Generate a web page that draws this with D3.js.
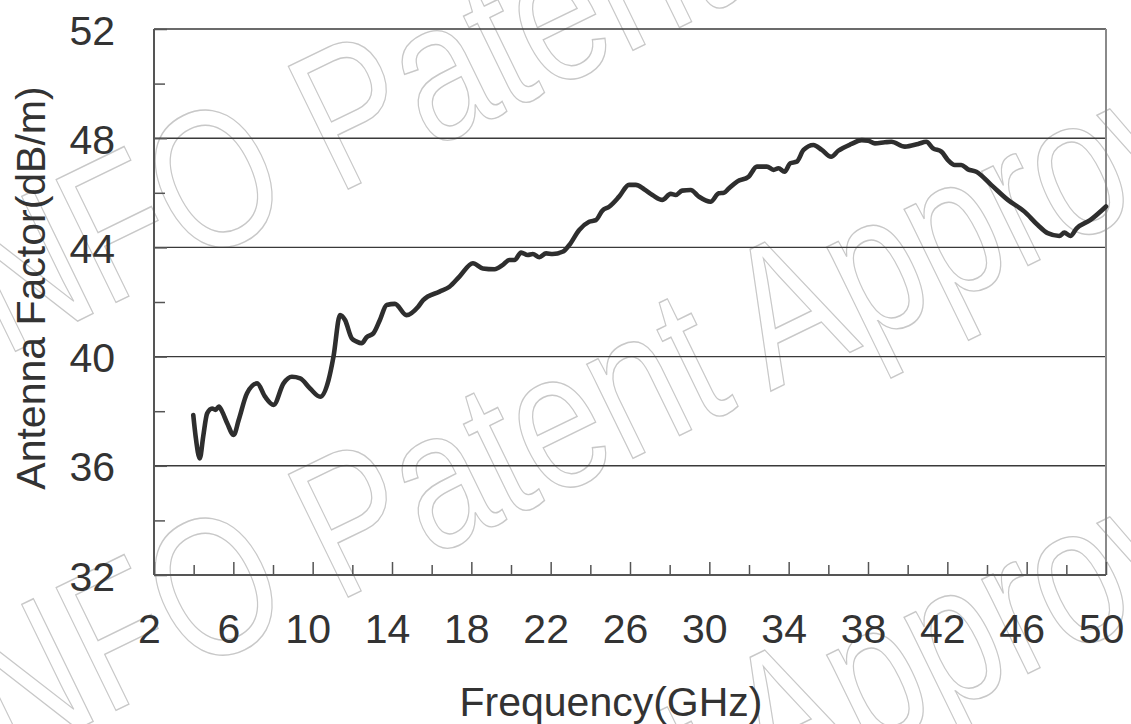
<!DOCTYPE html>
<html>
<head>
<meta charset="utf-8">
<script src="https://cdn.jsdelivr.net/npm/d3@7/dist/d3.min.js"></script>
<style>
  html, body { margin: 0; padding: 0; background: #fff; }
  svg { display: block; }
</style>
</head>
<body>
<svg id="chart" width="1131" height="724"></svg>
<script>
// ---- data ----
const freqGHz = [3.98, 4.1, 4.31, 4.48, 4.68, 4.93, 5.1, 5.27, 5.44, 5.69, 6.02, 6.27, 6.69, 7.2, 7.6, 8.03,
  8.53, 8.95, 9.37, 9.87, 10.38, 10.8, 11.05, 11.38, 11.63, 11.97, 12.22, 12.47, 12.72, 13.06, 13.39, 13.73,
  14.15, 14.73, 15.32, 15.57, 16.4, 16.9, 17.4, 18.08, 18.58, 19.17, 19.59, 19.92, 20.18, 20.51, 20.84, 21.1,
  21.43, 21.77, 22.1, 22.6, 22.94, 23.44, 23.94, 24.28, 24.61, 24.95, 25.45, 25.95, 26.29, 26.71, 27.13, 27.63,
  28.05, 28.3, 28.63, 29.06, 29.47, 30.06, 30.48, 30.73, 30.98, 31.4, 31.98, 32.4, 32.9, 33.24, 33.49, 33.79,
  34.08, 34.41, 34.75, 35.25, 35.67, 36.14, 36.5, 37.17, 37.68, 38.01, 38.35, 38.85, 39.18, 39.86, 40.53, 40.94,
  41.28, 41.7, 42.03, 42.37, 42.7, 43.04, 43.46, 44.21, 45.05, 45.89, 46.56, 47.06, 47.65, 47.9, 48.2, 48.52,
  49.2, 50.0];
const antennaFactor = [37.86, 37.07, 36.27, 37.07, 37.92, 38.1, 38.05, 38.17, 37.98, 37.56, 37.13, 37.68, 38.66, 39.02, 38.53, 38.23,
  39.02, 39.26, 39.2, 38.83, 38.53, 39.14, 40.0, 41.52, 41.34, 40.67, 40.55, 40.49, 40.71, 40.85, 41.34, 41.89,
  41.93, 41.52, 41.83, 42.07, 42.38, 42.56, 42.93, 43.42, 43.23, 43.2, 43.36, 43.54, 43.54, 43.81, 43.72, 43.76,
  43.64, 43.78, 43.76, 43.84, 44.09, 44.64, 44.94, 45.0, 45.35, 45.49, 45.86, 46.29, 46.29, 46.13, 45.92, 45.74,
  45.96, 45.92, 46.08, 46.1, 45.86, 45.67, 45.98, 46.0, 46.16, 46.41, 46.59, 46.96, 46.96, 46.84, 46.9, 46.77,
  47.08, 47.14, 47.57, 47.75, 47.57, 47.32, 47.54, 47.79, 47.93, 47.91, 47.81, 47.85, 47.87, 47.69, 47.79, 47.87,
  47.63, 47.51, 47.2, 47.02, 47.02, 46.86, 46.77, 46.29, 45.74, 45.31, 44.82, 44.52, 44.42, 44.54, 44.42, 44.7,
  45.0, 45.5];
const xMajorTicks = [2, 6, 10, 14, 18, 22, 26, 30, 34, 38, 42, 46, 50];
const xMinorTicks = [4, 8, 12, 16, 20, 24, 28, 32, 36, 40, 44, 48];
const yMajorTicks = [32, 36, 40, 44, 48, 52];
const yMinorTicks = [34, 38, 42, 46, 50];
const xTitle = "Frequency(GHz)";
const yTitle = "Antenna Factor(dB/m)";
const watermarkText = "NFO Patent Approval";

// ---- layout ----
const W = 1131, H = 724;
const mLeft = 154, mRight = 1106, mTop = 29, mBottom = 575;
const FONT = "'Liberation Sans', Arial, Helvetica, sans-serif";
const TXT = "#333";

const svg = d3.select("#chart");
svg.append("rect").attr("width", W).attr("height", H).attr("fill", "#fff");

// watermark (outlined text, as in the reference scan)
const wm = svg.append("g").attr("class", "watermark");
const wmLines = [[4, 357], [4, 765], [4, 1173]];
wmLines.forEach(([x0, y0]) => {
  wm.append("text")
    .attr("transform", `translate(${x0},${y0}) rotate(-26) scale(1,1.28)`)
    .attr("font-family", FONT)
    .attr("font-size", 155)
    .attr("fill", "none")
    .attr("stroke", "#c8c8c8")
    .attr("stroke-width", 1.3)
    .attr("vector-effect", "non-scaling-stroke")
    .text(watermarkText);
});

const x = d3.scaleLinear().domain([2, 50]).range([mLeft, mRight]);
const y = d3.scaleLinear().domain([32, 52]).range([mBottom, mTop]);

// gridlines
svg.append("g").selectAll("line")
  .data(yMajorTicks.filter(d => d > 32))
  .join("line")
  .attr("x1", mLeft).attr("x2", mRight)
  .attr("y1", d => y(d)).attr("y2", d => y(d))
  .attr("stroke", "#3a3a3a").attr("stroke-width", 1.4);

// right border
svg.append("line")
  .attr("x1", mRight).attr("x2", mRight).attr("y1", mTop).attr("y2", mBottom)
  .attr("stroke", "#8a8a8a").attr("stroke-width", 2);

// x axis minor
const gxMinor = svg.append("g").attr("transform", `translate(0,${mBottom})`)
  .call(d3.axisBottom(x).tickValues(xMinorTicks).tickSize(-10).tickFormat(""));
// x axis major
const gx = svg.append("g").attr("transform", `translate(0,${mBottom})`)
  .call(d3.axisBottom(x).tickValues(xMajorTicks).tickSize(-13).tickPadding(39).tickFormat(d3.format("d")));
// y axis minor
const gyMinor = svg.append("g").attr("transform", `translate(${mLeft},0)`)
  .call(d3.axisLeft(y).tickValues(yMinorTicks).tickSize(-11).tickFormat(""));
// y axis major
const gy = svg.append("g").attr("transform", `translate(${mLeft},0)`)
  .call(d3.axisLeft(y).tickValues(yMajorTicks).tickSize(-13).tickPadding(39).tickFormat(d3.format("d")));

[gxMinor, gx, gyMinor, gy].forEach(g => {
  g.select(".domain").attr("stroke", "#555").attr("stroke-width", 2);
  g.selectAll(".tick line").attr("stroke", "#555").attr("stroke-width", 1.5);
  g.selectAll("text").attr("font-family", FONT).attr("font-size", 41).attr("fill", TXT);
});
gx.select(".domain").attr("d", `M${mLeft},0H${mRight}`);
gy.select(".domain").attr("d", `M0,${mBottom}V${mTop}`);
gxMinor.select(".domain").remove();
gyMinor.select(".domain").remove();
gx.selectAll("text").attr("dx", -5);
gy.selectAll("text").attr("dy", "0.37em");

// the curve
const line = d3.line()
  .x((d, i) => x(freqGHz[i]))
  .y(d => y(d))
  .curve(d3.curveMonotoneX);
svg.append("path")
  .datum(antennaFactor)
  .attr("d", line)
  .attr("fill", "none")
  .attr("stroke", "#2e2e2e")
  .attr("stroke-width", 4.6)
  .attr("stroke-linejoin", "round")
  .attr("stroke-linecap", "round");

// titles
svg.append("text")
  .attr("x", 611).attr("y", 716)
  .attr("text-anchor", "middle")
  .attr("font-family", FONT).attr("font-size", 41).attr("fill", TXT)
  .text(xTitle);
svg.append("text")
  .attr("transform", `translate(45,288) rotate(-90)`)
  .attr("text-anchor", "middle")
  .attr("font-family", FONT).attr("font-size", 41).attr("fill", TXT)
  .text(yTitle);
</script>
</body>
</html>
